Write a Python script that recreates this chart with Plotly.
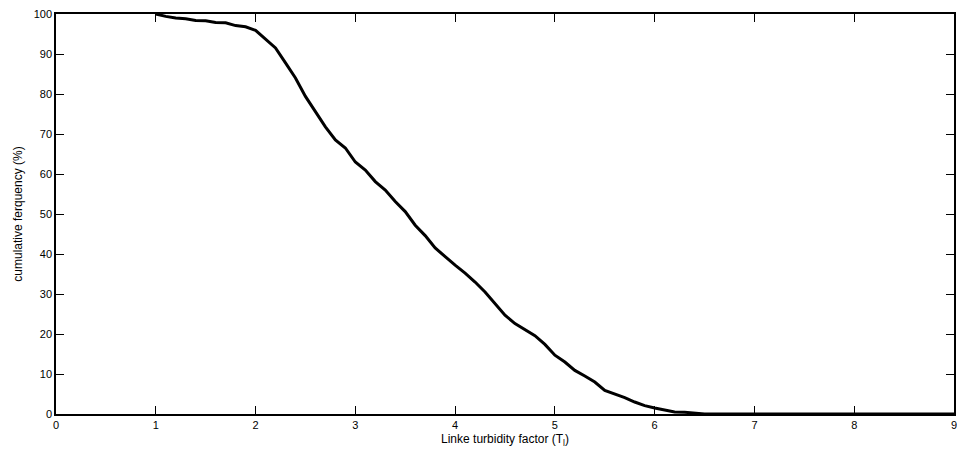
import plotly.graph_objects as go

# Linke turbidity factor (x) vs cumulative frequency (%)
tl_values = [1.0, 1.1, 1.2, 1.3, 1.4, 1.5, 1.6, 1.7, 1.8, 1.9, 2.0, 2.1, 2.2, 2.3, 2.4,
             2.5, 2.6, 2.7, 2.8, 2.9, 3.0, 3.1, 3.2, 3.3, 3.4, 3.5, 3.6, 3.7, 3.8, 3.9,
             4.0, 4.1, 4.2, 4.3, 4.4, 4.5, 4.6, 4.7, 4.8, 4.9, 5.0, 5.1, 5.2, 5.3, 5.4,
             5.5, 5.6, 5.7, 5.8, 5.9, 6.0, 6.1, 6.2, 6.3, 6.4, 6.5, 7.0, 8.0, 9.0]
cum_freq = [100.0, 99.4, 99.0, 98.8, 98.4, 98.3, 97.9, 97.8, 97.1, 96.8, 95.9, 93.8, 91.5, 87.8, 84.0,
            79.4, 75.6, 71.8, 68.5, 66.5, 63.0, 61.0, 58.1, 56.0, 53.1, 50.6, 47.2, 44.6, 41.5, 39.3,
            37.2, 35.2, 33.0, 30.5, 27.6, 24.7, 22.6, 21.0, 19.6, 17.4, 14.7, 13.0, 10.9, 9.5, 8.0,
            5.9, 5.0, 4.1, 3.0, 2.1, 1.5, 1.0, 0.5, 0.45, 0.3, 0.0, 0.0, 0.0, 0.0]

x_ticks = [0, 1, 2, 3, 4, 5, 6, 7, 8, 9]
y_ticks = [0, 10, 20, 30, 40, 50, 60, 70, 80, 90, 100]

fig = go.Figure()
fig.add_trace(go.Scatter(x=tl_values, y=cum_freq, mode="lines",
                         line=dict(color="black", width=3), showlegend=False))

axis_common = dict(showline=True, linecolor="black", linewidth=1.5, mirror="ticks",
                   ticks="inside", ticklen=8, tickwidth=1, tickcolor="black",
                   showgrid=False, zeroline=False, ticklabeloverflow="allow",
                   tickfont=dict(family="Liberation Sans, Arial", size=11, color="black"))

fig.update_xaxes(range=[0, 9], tickvals=x_ticks, ticktext=[str(v) for v in x_ticks],
                 title=dict(text="Linke turbidity factor (T<sub>l</sub>)", standoff=5,
                            font=dict(family="Liberation Sans, Arial", size=12, color="black")),
                 **axis_common)
fig.update_yaxes(range=[0, 100], tickvals=y_ticks, ticktext=[str(v) for v in y_ticks],
                 title=dict(text="cumulative ferquency (%)", standoff=8,
                            font=dict(family="Liberation Sans, Arial", size=12, color="black")),
                 **axis_common)

fig.update_layout(width=957, height=454, margin=dict(l=56, r=0, t=14, b=40),
                  plot_bgcolor="white", paper_bgcolor="white")

fig.write_html("out.html")
